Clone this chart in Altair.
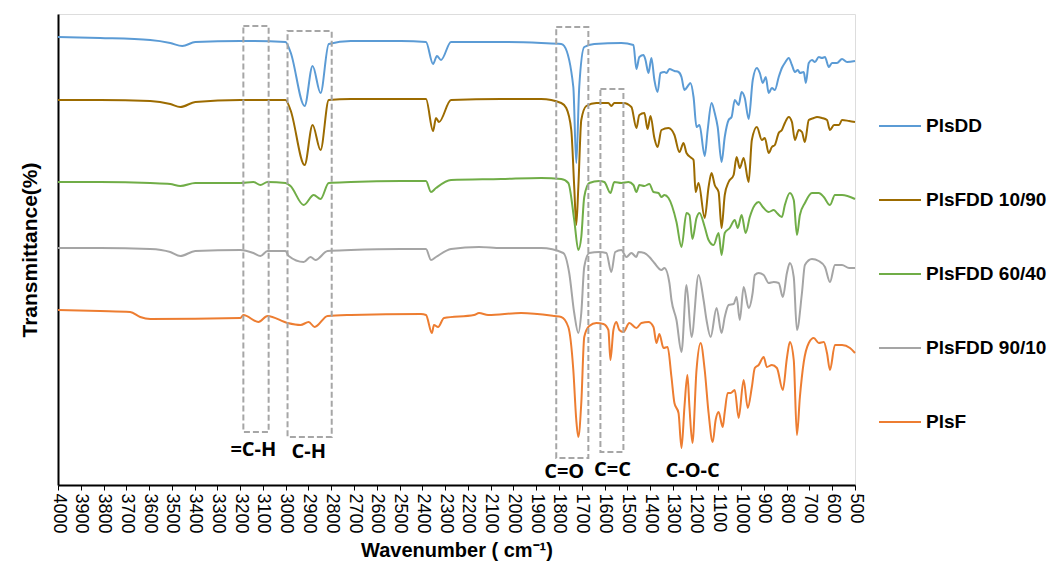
import altair as alt
import pandas as pd

# ---- data (wavenumber cm-1, offset transmittance, arbitrary units) ----
series_names = ["PlsDD", "PlsFDD 10/90", "PlsFDD 60/40", "PlsFDD 90/10", "PlsF"]
series_colors = ["#5B9BD5", "#9C6B00", "#70AD47", "#A5A5A5", "#ED7D31"]

plsdd_wn = [4000, 3815, 3595, 3507, 3454, 3397, 3199, 3001, 2979, 2917, 2882, 2847, 2811, 2714, 2494,
            2384, 2353, 2336, 2318, 2274, 2054, 1878, 1790, 1777, 1737, 1724, 1711, 1689, 1645, 1526,
            1473, 1460, 1447, 1429, 1420, 1407, 1394, 1381, 1367, 1354, 1337, 1328, 1315, 1293, 1275,
            1262, 1249, 1231, 1223, 1209, 1196, 1183, 1160, 1147, 1130, 1116, 1103, 1086, 1072, 1055,
            1042, 1028, 1011, 998, 984, 967, 949, 931, 918, 905, 892, 879, 865, 852, 835,
            821, 808, 791, 777, 764, 751, 742, 725, 716, 703, 689, 676, 659, 645, 632,
            615, 601, 579, 557, 535, 500]
plsdd_t = [448, 447, 445, 442, 439, 443, 444, 443, 433, 379, 419, 392, 441, 444, 444,
           443, 421, 429, 425, 443, 443, 442, 441, 439, 398, 322, 398, 438, 441, 442,
           440, 416, 428, 430, 425, 412, 427, 405, 393, 412, 413, 412, 416, 414, 413,
           408, 395, 400, 402, 388, 358, 360, 329, 355, 382, 372, 358, 323, 348, 365,
           368, 385, 380, 393, 387, 366, 405, 417, 412, 402, 408, 392, 397, 395, 408,
           417, 422, 427, 420, 413, 415, 412, 413, 402, 422, 425, 423, 428, 427, 428,
           418, 422, 422, 426, 423, 424]

f1090_wn = [4000, 3815, 3595, 3507, 3463, 3397, 3199, 3001, 2979, 2917, 2882, 2847, 2811, 2714, 2494,
            2384, 2353, 2340, 2327, 2274, 2054, 1878, 1790, 1768, 1746, 1733, 1724, 1715, 1702, 1680,
            1636, 1583, 1570, 1557, 1517, 1482, 1460, 1447, 1425, 1411, 1398, 1381, 1367, 1350, 1319,
            1293, 1271, 1253, 1240, 1218, 1209, 1200, 1187, 1160, 1143, 1130, 1116, 1099, 1086, 1072,
            1055, 1033, 1020, 1006, 989, 967, 953, 931, 909, 896, 879, 865, 852, 835, 821,
            808, 791, 777, 764, 747, 733, 720, 703, 681, 667, 645, 623, 610, 592, 570,
            557, 526, 500]
f1090_t = [385, 385, 384, 381, 378, 383, 385, 385, 375, 320, 360, 335, 385, 386, 386,
           386, 354, 367, 363, 385, 386, 386, 382, 377, 355, 298, 260, 298, 365, 379,
           382, 382, 379, 382, 382, 378, 357, 370, 372, 356, 369, 347, 338, 355, 357,
           350, 333, 342, 332, 327, 325, 293, 302, 267, 298, 312, 300, 293, 257, 290,
           303, 310, 328, 317, 327, 303, 345, 358, 345, 347, 332, 338, 340, 352, 355,
           362, 368, 363, 345, 355, 353, 343, 365, 367, 368, 367, 365, 355, 360, 360,
           365, 364, 363]

f6040_wn = [4000, 3815, 3595, 3507, 3463, 3397, 3199, 3142, 3111, 3080, 3001, 2979, 2921, 2877, 2847,
            2811, 2714, 2494, 2384, 2362, 2340, 2274, 2054, 1878, 1790, 1759, 1733, 1715, 1702, 1689,
            1667, 1623, 1601, 1574, 1557, 1526, 1495, 1473, 1460, 1447, 1425, 1403, 1385, 1363, 1350,
            1337, 1319, 1284, 1262, 1240, 1227, 1214, 1196, 1183, 1160, 1143, 1121, 1099, 1086, 1072,
            1050, 1028, 1015, 998, 980, 962, 940, 923, 905, 879, 857, 843, 821, 808, 786,
            769, 755, 742, 720, 689, 659, 637, 610, 588, 557, 500]
f6040_t = [303, 303, 302, 301, 299, 302, 302, 303, 300, 303, 302, 299, 280, 290, 286,
           302, 303, 304, 304, 293, 297, 305, 306, 307, 306, 302, 265, 235, 248, 288,
           302, 304, 303, 292, 303, 302, 303, 300, 293, 300, 299, 301, 293, 292, 288,
           290, 287, 263, 238, 272, 270, 246, 267, 272, 258, 245, 240, 252, 230, 252,
           257, 265, 257, 270, 252, 268, 280, 283, 278, 273, 275, 272, 268, 280, 292,
           285, 250, 270, 282, 292, 292, 288, 280, 290, 290, 286]

f9010_wn = [4000, 3815, 3595, 3507, 3463, 3397, 3199, 3142, 3111, 3080, 3001, 2987, 2921, 2891, 2869,
            2816, 2714, 2494, 2384, 2362, 2340, 2274, 2151, 2054, 1878, 1781, 1755, 1733, 1715, 1702,
            1689, 1667, 1623, 1592, 1570, 1553, 1526, 1504, 1482, 1460, 1451, 1425, 1403, 1381, 1350,
            1337, 1315, 1306, 1284, 1262, 1240, 1218, 1187, 1165, 1152, 1134, 1108, 1086, 1072, 1055,
            1033, 1020, 1006, 989, 967, 949, 940, 923, 901, 879, 857, 835, 817, 799, 786,
            769, 755, 733, 720, 689, 659, 632, 610, 588, 557, 526, 500]
f9010_t = [237, 237, 236, 233, 229, 234, 235, 232, 229, 234, 234, 229, 223, 228, 225,
           234, 235, 236, 236, 225, 228, 236, 238, 237, 237, 232, 212, 172, 152, 172,
           218, 232, 233, 232, 213, 233, 235, 228, 232, 228, 233, 232, 228, 222, 215,
           217, 202, 185, 165, 133, 200, 148, 210, 185, 165, 148, 177, 152, 168, 180,
           181, 188, 165, 198, 177, 193, 210, 212, 210, 202, 203, 202, 188, 212, 222,
           208, 155, 192, 220, 226, 224, 218, 203, 220, 220, 217, 217]

plsf_wn = [4000, 3815, 3683, 3639, 3595, 3199, 3186, 3120, 3080, 2992, 2935, 2899, 2873, 2816, 2714,
           2406, 2384, 2358, 2349, 2331, 2305, 2173, 2151, 2111, 1966, 1821, 1790, 1759, 1737, 1724,
           1715, 1702, 1689, 1667, 1636, 1605, 1583, 1574, 1561, 1548, 1535, 1517, 1491, 1460, 1438,
           1407, 1385, 1372, 1359, 1341, 1323, 1306, 1293, 1275, 1262, 1249, 1236, 1227, 1214, 1196,
           1178, 1160, 1143, 1125, 1112, 1099, 1081, 1072, 1059, 1046, 1028, 1011, 989, 971, 953,
           940, 923, 901, 887, 865, 843, 817, 799, 786, 769, 755, 742, 725, 703, 681,
           659, 637, 623, 610, 588, 557, 522, 500]
plsf_t = [175, 174, 173, 168, 166, 167, 170, 163, 169, 162, 160, 163, 158, 169, 170,
          171, 170, 152, 160, 158, 167, 170, 172, 170, 172, 169, 168, 158, 115, 65,
          48, 82, 148, 159, 162, 161, 155, 125, 155, 163, 155, 153, 162, 157, 162,
          163, 158, 142, 151, 137, 138, 108, 82, 72, 37, 78, 110, 78, 42, 115,
          142, 115, 72, 43, 65, 73, 58, 73, 92, 92, 95, 67, 105, 77, 98,
          117, 120, 128, 118, 120, 117, 95, 127, 143, 125, 50, 88, 123, 142, 147,
          142, 143, 132, 115, 140, 140, 137, 132]

# annotation boxes (band limits in cm-1 and transmittance units)
box_labels = ["=C-H", "C-H", "C=O", "C=C"]
box_wn_hi = [3186, 2992, 1812, 1618]
box_wn_lo = [3075, 2798, 1671, 1517]
box_t_top = [459, 454, 458, 396]
box_t_bot = [53, 48, 27, 33]

label_texts = ["=C-H", "C-H", "C=O", "C=C", "C-O-C"]
label_wn = [3142, 2899, 1777, 1565, 1213]
label_t = [35, 33, 13, 15, 14]

tick_values = list(range(4000, 499, -100))

# ---- build table ----
rows = []
for name, wn, tt in [
    (series_names[0], plsdd_wn, plsdd_t),
    (series_names[1], f1090_wn, f1090_t),
    (series_names[2], f6040_wn, f6040_t),
    (series_names[3], f9010_wn, f9010_t),
    (series_names[4], plsf_wn, plsf_t),
]:
    for a, b in zip(wn, tt):
        rows.append({"series": name, "wn": a, "t": b})
df = pd.DataFrame(rows)

boxes = pd.DataFrame({"label": box_labels, "hi": box_wn_hi, "lo": box_wn_lo,
                      "top": box_t_top, "bot": box_t_bot})
labels = pd.DataFrame({"label": label_texts, "wn": label_wn, "t": label_t})

xscale = alt.Scale(domain=[500, 4000], reverse=True, nice=False, zero=False)
yscale = alt.Scale(domain=[0, 471], nice=False, zero=False)

xaxis = alt.Axis(values=tick_values, format="d", labelAngle=90, labelFontSize=18, labelColor="black",
                 labelFont="Liberation Sans", title="Wavenumber ( cm⁻¹)", titleFont="Liberation Sans",
                 titleFontSize=20, titleFontWeight="bold", titleColor="black", titlePadding=7,
                 grid=False, tickColor="black", tickSize=5, domainColor="black", domainWidth=2,
                 labelPadding=3, labelOverlap=False, labelFlush=False)
yaxis = alt.Axis(labels=False, ticks=False, grid=False, title="Transmittance(%)",
                 titleFont="Liberation Sans", titleFontSize=21, titleFontWeight="bold",
                 titleColor="black", domainColor="black", domainWidth=2, titlePadding=18)

lines = alt.Chart(df).mark_line(strokeWidth=2, interpolate="monotone").encode(
    x=alt.X("wn:Q", scale=xscale, axis=xaxis),
    y=alt.Y("t:Q", scale=yscale, axis=yaxis),
    color=alt.Color("series:N", scale=alt.Scale(domain=series_names, range=series_colors),
                    sort=series_names,
                    legend=alt.Legend(title=None, orient="none", legendX=820, legendY=90,
                                      symbolType="stroke", symbolSize=1764, symbolStrokeWidth=2,
                                      labelFont="Liberation Sans", labelFontSize=19,
                                      labelFontWeight="bold", labelColor="black",
                                      rowPadding=42, labelOffset=4)),
    detail="series:N",
)

rects = alt.Chart(boxes).mark_rect(fill=None, fillOpacity=0, stroke="#A6A6A6", strokeWidth=2,
                                   strokeDash=[6, 3]).encode(
    x=alt.X("hi:Q", scale=xscale, axis=xaxis), x2="lo:Q",
    y=alt.Y("top:Q", scale=yscale, axis=yaxis), y2="bot:Q",
)

texts = alt.Chart(labels).mark_text(font="Open Sans", fontSize=20, fontWeight="bold",
                                    color="black", baseline="middle", align="center").encode(
    x=alt.X("wn:Q", scale=xscale, axis=xaxis), y=alt.Y("t:Q", scale=yscale, axis=yaxis),
    text="label:N",
)

chart = alt.layer(lines, rects, texts).properties(
    width=797, height=471,
    autosize=alt.AutoSizeParams(type="none"),
    padding={"left": 58, "top": 14, "right": 193, "bottom": 77},
).configure_view(stroke="black", strokeWidth=2).configure(background="white")

chart.save("out.html", embed_options={"renderer": "svg", "actions": False})
